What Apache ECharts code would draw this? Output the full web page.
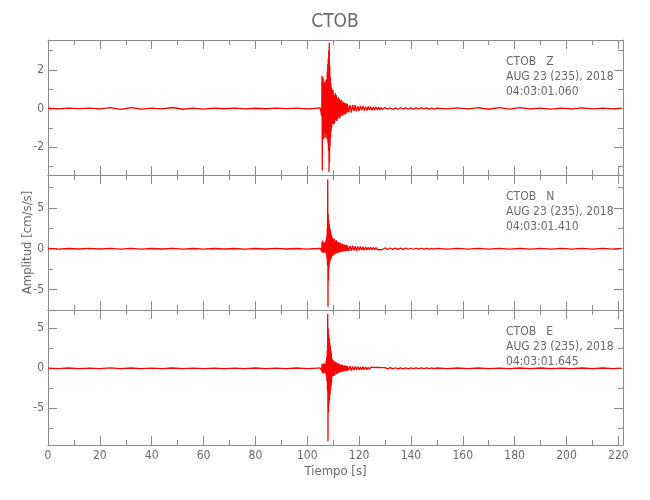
<!DOCTYPE html>
<html><head><meta charset="utf-8">
<script src="https://cdn.jsdelivr.net/npm/echarts@6/dist/echarts.min.js"></script>
<style>html,body{margin:0;padding:0;background:#fff}#c{width:650px;height:500px}</style>
</head><body><div id="c"></div>
<script>
// ---- texts ----
const chartTitle = 'CTOB';
const xAxisTitle = 'Tiempo [s]';
const yAxisTitle = 'Amplitud [cm/s/s]';
const stationLabels = ['CTOB   Z', 'CTOB   N', 'CTOB   E'];
const dateLabel = 'AUG 23 (235), 2018';
const startTimes = ['04:03:01.060', '04:03:01.410', '04:03:01.645'];

// ---- ticks ----
const xTickLabels = [0, 20, 40, 60, 80, 100, 120, 140, 160, 180, 200, 220];
const xMinorTicks = [0, 10, 20, 30, 40, 50, 60, 70, 80, 90, 100, 110, 120, 130, 140, 150, 160, 170, 180, 190, 200, 210, 220];
const zTickLabels = [-2, 0, 2];
const zMinorTicks = [-3, -2, -1, 0, 1, 2, 3];
const nTickLabels = [-5, 0, 5];
const nMinorTicks = [-7.5, -5, -2.5, 0, 2.5, 5, 7.5];
const eTickLabels = [-5, 0, 5];
const eMinorTicks = [-7.5, -5, -2.5, 0, 2.5, 5];

// ---- sample times (s) ----
const timeSec = [
  0, 4, 8, 12, 16, 20, 24, 28, 32, 36, 40, 44, 48, 52, 56, 60, 64, 68, 72, 76, 80, 84, 88, 92, 96, 100, 104,
  104.5, 105,
  105.5, 105.6, 105.7, 105.8, 105.9, 106, 106.1, 106.2, 106.3, 106.4,
  106.5, 106.6, 106.7, 106.8, 106.9, 107, 107.1, 107.2, 107.3, 107.4,
  107.5, 107.6, 107.7, 107.8, 107.9, 108, 108.1, 108.2, 108.3, 108.4,
  108.5, 108.6, 108.7, 108.8, 108.9, 109, 109.1, 109.2, 109.3, 109.4,
  109.6, 109.8, 110, 110.2, 110.4, 110.6, 110.8, 111, 111.2, 111.4,
  111.6, 111.8, 112, 112.2, 112.4, 112.6, 112.8, 113, 113.2, 113.4,
  113.6, 113.8, 114, 114.2, 114.4, 114.6, 114.8, 115, 115.2, 115.4,
  115.5, 116, 116.5, 117, 117.5, 118, 118.5, 119, 119.5, 120, 120.5, 121, 121.5, 122,
  122.5, 123, 123.5, 124, 124.5, 125, 125.5, 126, 126.5, 127, 127.5, 128, 128.5, 129,
  130, 131, 132, 133, 134, 135, 136, 137, 138, 139, 140, 141, 142, 143, 144, 145, 146, 147, 148, 149,
  150, 154, 158, 162, 166, 170, 174, 178, 182, 186, 190, 194, 198, 202, 206, 210, 214, 218,
  221
];

// ---- amplitudes (cm/s/s) ----
const zAmp = [
  0.01, -0.02, 0.015, -0.01, 0.02, -0.02, 0.04, -0.05, 0.04, -0.03, 0.02, -0.02, 0.05, -0.04, 0.02, -0.03, 0.02, -0.015, 0.015, -0.02, 0.01, -0.015, 0.02, -0.01, 0.015, -0.02, 0.02,
  -0.02, 0.03,
  0.04, -0.4, 1.7, -3.2, 1.4, -1.5, 1.6, -1.3, 1.2, -1.6,
  1.3, -1.1, 1.4, -1.2, 1.1, -1.5, 1.3, -1.0, 1.5, -1.3,
  1.2, -1.6, 1.9, -1.4, 2.3, -1.8, 2.6, -2.2, 3.0, -3.3,
  3.4, -2.8, 2.2, -2.0, 1.6, -1.5, 1.3, -1.2, 1.1, -1.0,
  1.0, -0.8, 0.95, -0.85, 0.7, -0.75, 0.8, -0.6, 0.7, -0.65,
  0.5, -0.55, 0.6, -0.45, 0.5, -0.5, 0.42, -0.36, 0.45, -0.38,
  0.32, -0.36, 0.35, -0.28, 0.3, -0.32, 0.24, -0.26, 0.27, -0.2,
  0.22, -0.2, 0.17, -0.21, 0.18, -0.14, 0.17, -0.15, 0.12, -0.14, 0.13, -0.1, 0.12, -0.11,
  0.09, -0.11, 0.1, -0.08, 0.09, -0.09, 0.07, -0.08, 0.08, -0.06, 0.07, -0.07, 0.05, -0.06,
  0.05, -0.04, 0.04, -0.05, 0.03, -0.04, 0.04, -0.03, 0.03, -0.04, 0.03, -0.03, 0.03, -0.03, 0.04, -0.02, 0.03, -0.03, 0.02, -0.03,
  0.02, -0.02, 0.03, -0.02, 0.04, -0.04, 0.04, -0.03, 0.04, -0.02, 0.02, -0.03, 0.02, -0.02, 0.03, -0.02, 0.02, -0.02,
  0.01
];
const nAmp = [
  0.03, -0.04, 0.03, -0.03, 0.04, -0.03, 0.05, -0.05, 0.04, -0.04, 0.03, -0.03, 0.05, -0.04, 0.03, -0.04, 0.03, -0.03, 0.03, -0.04, 0.03, -0.03, 0.04, -0.03, 0.03, -0.04, 0.03,
  -0.04, 0.05,
  0.05, -0.3, 0.8, -0.5, 1.0, -0.4, 0.7, -0.5, 0.6, -0.4,
  0.8, -0.4, 0.7, -0.5, 0.6, -0.4, 0.9, -0.5, 1.1, -0.8,
  1.5, -1.2, 2.5, -2.0, 8.5, -7.1, 4.3, -3.9, 3.5, -2.4,
  3.0, -1.8, 2.6, -1.5, 2.3, -1.3, 2.0, -1.2, 1.7, -1.1,
  1.5, -0.9, 1.2, -0.8, 1.25, -0.65, 1.0, -0.6, 1.05, -0.5,
  0.8, -0.55, 0.85, -0.4, 0.7, -0.45, 0.72, -0.35, 0.6, -0.4,
  0.62, -0.3, 0.5, -0.34, 0.52, -0.26, 0.42, -0.3, 0.45, -0.24,
  0.4, -0.3, 0.36, -0.26, 0.37, -0.22, 0.3, -0.25, 0.28, -0.2, 0.27, -0.17, 0.22, -0.19,
  0.22, -0.15, 0.18, -0.16, 0.17, -0.13, 0.15, -0.13, 0.14, -0.11, 0.12, -0.12, 0.11, -0.1,
  0.1, -0.09, 0.09, -0.08, 0.08, -0.08, 0.07, -0.07, 0.07, -0.06, 0.06, -0.06, 0.06, -0.05, 0.06, -0.05, 0.05, -0.05, 0.05, -0.05,
  0.04, -0.04, 0.05, -0.04, 0.04, -0.05, 0.05, -0.04, 0.04, -0.04, 0.04, -0.04, 0.05, -0.04, 0.04, -0.04, 0.04, -0.04,
  0.03
];
const eAmp = [
  0.03, -0.03, 0.04, -0.03, 0.03, -0.04, 0.05, -0.05, 0.04, -0.04, 0.03, -0.03, 0.04, -0.04, 0.03, -0.03, 0.03, -0.04, 0.03, -0.03, 0.04, -0.03, 0.03, -0.03, 0.04, -0.03, 0.03,
  -0.03, 0.04,
  0.05, -0.3, 0.5, -0.6, 0.6, -0.5, 0.5, -0.6, 0.4, -0.5,
  0.6, -0.5, 0.5, -0.6, 0.5, -0.4, 0.6, -0.7, 0.9, -1.0,
  1.4, -1.6, 2.2, -2.8, 6.8, -9.1, 5.0, -5.5, 4.2, -4.5,
  3.8, -4.0, 3.2, -3.3, 2.8, -2.7, 2.3, -2.2, 1.9, -1.8,
  1.2, -1.0, 1.05, -0.95, 0.85, -0.9, 0.8, -0.65, 0.75, -0.7,
  0.6, -0.65, 0.62, -0.5, 0.55, -0.55, 0.45, -0.5, 0.48, -0.38,
  0.44, -0.42, 0.35, -0.4, 0.36, -0.3, 0.34, -0.33, 0.28, -0.3,
  0.3, -0.25, 0.27, -0.27, 0.22, -0.25, 0.24, -0.19, 0.21, -0.21, 0.17, -0.19, 0.18, -0.14,
  0.16, -0.16, 0.13, -0.15, 0.14, -0.11, 0.12, -0.12, 0.1, -0.11, 0.1, -0.08, 0.09, -0.09,
  0.08, -0.08, 0.08, -0.07, 0.07, -0.07, 0.06, -0.06, 0.06, -0.06, 0.05, -0.05, 0.05, -0.05, 0.05, -0.05, 0.04, -0.05, 0.04, -0.04,
  0.04, -0.04, 0.04, -0.03, 0.04, -0.04, 0.03, -0.04, 0.04, -0.03, 0.04, -0.04, 0.03, -0.04, 0.04, -0.03, 0.04, -0.03,
  0.03
];

// ---- layout / style ----
const FONT = "'Liberation Sans Narrow','DejaVu Sans Condensed',sans-serif";
const AX = '#8c8c8c';
const TX = '#6a6a6a';
const GRID_LEFT = 48, GRID_RIGHT = 27, GRID_H = 135;
const panels = [
  { top: 40,  min: -3.45, max: 3.55, labels: zTickLabels, minor: zMinorTicks, amp: zAmp },
  { top: 175, min: -7.5,  max: 9.03, labels: nTickLabels, minor: nMinorTicks, amp: nAmp },
  { top: 310, min: -9.6,  max: 7.3,  labels: eTickLabels, minor: eMinorTicks, amp: eAmp }
];
const X_MAX = 221.8;

const grids = [], xAxes = [], yAxes = [], series = [], graphics = [];
const lineCol = { color: AX, width: 1 };
const lblStyle = { color: TX, fontSize: 12, fontFamily: FONT };

panels.forEach((p, g) => {
  grids.push({ left: GRID_LEFT, right: GRID_RIGHT, top: p.top, height: GRID_H });
  const mkX = (pos, ticks, len, showLine, showLabel) => {
    const a = {
      gridIndex: g, type: 'value', min: 0, max: X_MAX, position: pos,
      axisLine: { show: showLine, onZero: false, lineStyle: lineCol },
      axisTick: { show: true, inside: true, length: len, customValues: ticks, lineStyle: lineCol },
      axisLabel: { show: showLabel, customValues: ticks, margin: 5, ...lblStyle },
      splitLine: { show: false }
    };
    if (showLabel) {
      a.name = xAxisTitle; a.nameLocation = 'middle'; a.nameGap = 20;
      a.nameTextStyle = { color: TX, fontSize: 13, fontFamily: FONT };
    }
    return a;
  };
  xAxes.push(mkX('bottom', xTickLabels, 9, true, g === 2));
  xAxes.push(mkX('bottom', xMinorTicks, 5, false, false));
  xAxes.push(mkX('top', xTickLabels, 9, true, false));
  xAxes.push(mkX('top', xMinorTicks, 5, false, false));

  const mkY = (pos, ticks, len, showLine, showLabel) => {
    const a = {
      gridIndex: g, type: 'value', min: p.min, max: p.max, position: pos,
      axisLine: { show: showLine, onZero: false, lineStyle: lineCol },
      axisTick: { show: true, inside: true, length: len, customValues: ticks, lineStyle: lineCol },
      axisLabel: { show: showLabel, customValues: ticks, margin: 4, ...lblStyle },
      splitLine: { show: false }
    };
    if (showLabel && g === 1) {
      a.name = yAxisTitle; a.nameLocation = 'middle'; a.nameGap = 14; a.nameRotate = 90;
      a.nameMoveOverlap = false;
      a.nameTextStyle = { color: TX, fontSize: 13, fontFamily: FONT };
    }
    return a;
  };
  yAxes.push(mkY('left', p.labels, 9, true, true));
  yAxes.push(mkY('left', p.minor, 5, false, false));
  yAxes.push(mkY('right', p.labels, 9, true, false));
  yAxes.push(mkY('right', p.minor, 5, false, false));

  series.push({
    type: 'line', xAxisIndex: 4 * g, yAxisIndex: 4 * g,
    data: timeSec.map((t, i) => [t, p.amp[i]]),
    showSymbol: false, symbol: 'none', clip: true, silent: true,
    lineStyle: { color: '#ff0000', width: 1.3 }
  });

  [stationLabels[g], dateLabel, startTimes[g]].forEach((txt, k) => {
    graphics.push({
      type: 'text', x: 506, y: p.top + 22 + 15 * k, silent: true,
      style: { text: txt, fill: TX, font: "12px " + FONT, textAlign: 'left', textVerticalAlign: 'middle' }
    });
  });
});

graphics.push({
  type: 'text', x: 335, y: 22, silent: true,
  style: { text: chartTitle, fill: TX, font: "19px " + FONT, textAlign: 'center', textVerticalAlign: 'middle' }
});

const chart = echarts.init(document.getElementById('c'), null, { renderer: 'canvas' });
chart.setOption({
  animation: false,
  backgroundColor: '#ffffff',
  grid: grids,
  xAxis: xAxes,
  yAxis: yAxes,
  series: series,
  graphic: graphics
});
</script>
</body></html>
